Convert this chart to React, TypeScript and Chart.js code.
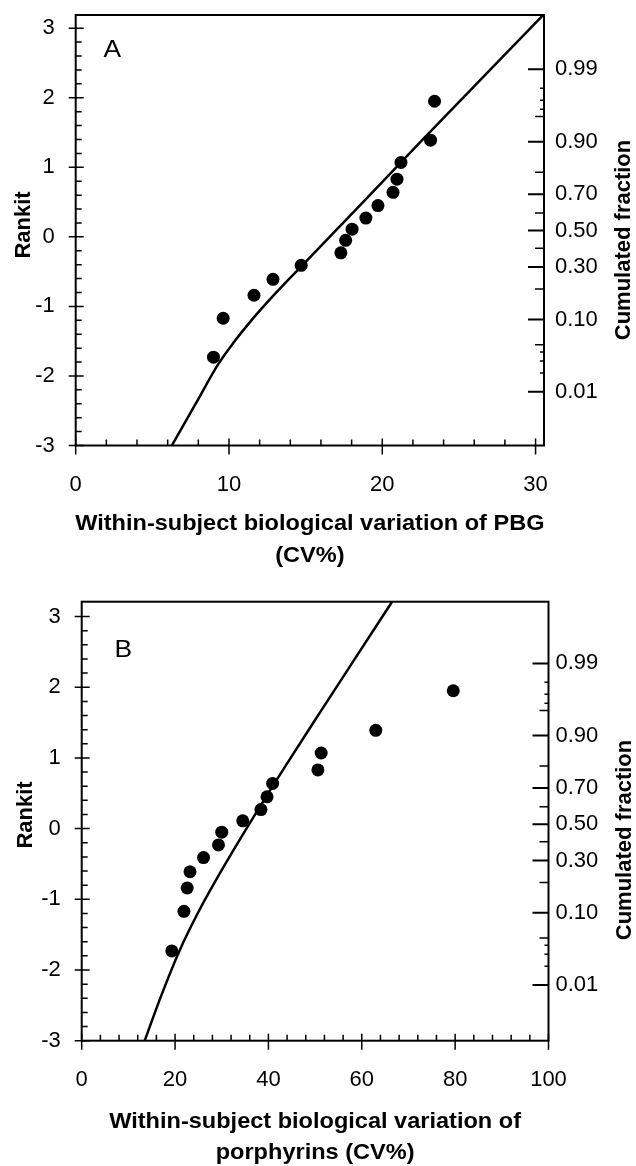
import React, { useEffect, useRef } from "react";
import { Chart, registerables } from "chart.js";

Chart.register(...registerables);

// ---------- data ----------
// expected normal order statistics (rankits) shared by both panels
const RANKITS = [-1.73, -1.17, -0.84, -0.61, -0.41, -0.23, -0.05, 0.11, 0.27, 0.45, 0.64, 0.83, 1.07, 1.39, 1.95];

// Panel A: PBG within-subject CV%
const PBG_CV = [8.99, 9.62, 11.63, 12.87, 14.71, 17.3, 17.61, 18.03, 18.93, 19.72, 20.7, 20.96, 21.22, 23.15, 23.41];
const PBG_FIT_CV = [6.27, 7.8, 9.3, 10.3, 11.5, 13.0, 14.8, 18.7, 22.6, 30.5];
const PBG_FIT_RANKIT = [-3.0, -2.41, -1.83, -1.52, -1.19, -0.82, -0.405, 0.49, 1.39, 3.19];

// Panel B: porphyrins within-subject CV%
const PORPH_CV = [19.3, 21.9, 22.6, 23.2, 26.1, 29.3, 30.0, 34.5, 38.4, 39.7, 40.9, 50.6, 51.3, 63.0, 79.6];
const PORPH_FIT_CV = [13.5, 17.0, 21.0, 25.0, 29.8, 36.5, 43.5, 51.3, 58.3, 66.5];
const PORPH_FIT_RANKIT = [-3.0, -2.37, -1.72, -1.18, -0.61, 0.13, 0.87, 1.67, 2.38, 3.21];

// tick labels
const X_TICKS_A = [0, 10, 20, 30];
const X_TICKS_B = [0, 20, 40, 60, 80, 100];
const RANKIT_TICKS = [-3, -2, -1, 0, 1, 2, 3];
const CUM_FRACTION_LABELS = ["0.01", "0.10", "0.30", "0.50", "0.70", "0.90", "0.99"];
const CUM_FRACTION_PROBITS = [-2.326, -1.282, -0.524, 0, 0.524, 1.282, 2.326];
// minor marks of the probability axis: 0.05, 0.20, 0.40, 0.60, 0.80, 0.95
const CUM_MINOR_PROBITS = [-1.645, -0.842, -0.253, 0.253, 0.842, 1.645];
// tiny marks: 0.02, 0.03, 0.04, 0.96, 0.97, 0.98
const CUM_TINY_PROBITS = [-2.054, -1.881, -1.751, 1.751, 1.881, 2.054];

const X_TITLE_A = ["Within-subject biological variation of PBG", "(CV%)"];
const X_TITLE_B = ["Within-subject biological variation of", "porphyrins (CV%)"];
const Y_TITLE = "Rankit";
const Y2_TITLE = "Cumulated fraction";

const W = 636;
const H = 583;
const FONT = '"Liberation Sans", Arial, sans-serif';

function range(from: number, to: number, step: number) {
  const out: number[] = [];
  for (let v = from; v <= to + 1e-9; v += step) out.push(Math.round(v * 1000) / 1000);
  return out;
}

type Spec = {
  letter: string;
  cv: number[];
  fitCv: number[];
  fitRankit: number[];
  xMax: number;
  yMax: number;
  y2Min: number;
  y2Max: number;
  xTicks: number[];
  xMinorStep: number;
  area: { left: number; right: number; top: number; bottom: number };
  xTitle: string[];
  xTitleDy: number[];
  rankitPos: [number, number];
  cumPos: [number, number];
  letterPos: [number, number];
  y2Pad: number;
};

function drawText(ctx: CanvasRenderingContext2D, text: string, x: number, y: number, font: string, rot = 0, sx = 1) {
  ctx.save();
  ctx.translate(x, y);
  if (rot) ctx.rotate(rot);
  ctx.scale(sx, 1);
  ctx.font = font;
  ctx.textAlign = "center";
  ctx.textBaseline = "middle";
  ctx.fillStyle = "#000";
  ctx.fillText(text, 0, 0);
  ctx.restore();
}

function makeDecor(spec: Spec) {
  return {
    id: "decor",
    afterDraw(chart: any) {
      const { ctx, chartArea: ca, scales } = chart;
      const xs = scales.x;
      const ys = scales.y;
      const y2s = scales.y2;
      ctx.save();
      ctx.strokeStyle = "#000";
      ctx.lineCap = "butt";
      // frame
      ctx.lineWidth = 2;
      ctx.strokeRect(ca.left, ca.top, ca.right - ca.left, ca.bottom - ca.top);
      ctx.lineWidth = 1.5;
      ctx.beginPath();
      // left axis
      for (const v of RANKIT_TICKS) {
        const p = ys.getPixelForValue(v);
        ctx.moveTo(ca.left - 7, p);
        ctx.lineTo(ca.left + 8, p);
      }
      for (const v of range(-3, 3, 0.2)) {
        if (RANKIT_TICKS.some((t) => Math.abs(t - v) < 1e-6)) continue;
        const p = ys.getPixelForValue(v);
        ctx.moveTo(ca.left, p);
        ctx.lineTo(ca.left + 6, p);
      }
      // bottom axis
      for (const v of spec.xTicks) {
        const p = xs.getPixelForValue(v);
        ctx.moveTo(p, ca.bottom - 7);
        ctx.lineTo(p, ca.bottom + 9);
      }
      for (const v of range(0, spec.xMax, spec.xMinorStep)) {
        if (spec.xTicks.some((t) => Math.abs(t - v) < 1e-6)) continue;
        const p = xs.getPixelForValue(v);
        ctx.moveTo(p, ca.bottom);
        ctx.lineTo(p, ca.bottom - 6);
      }
      ctx.stroke();
      // right probability axis
      ctx.lineWidth = 2;
      ctx.beginPath();
      for (const v of CUM_FRACTION_PROBITS) {
        const p = y2s.getPixelForValue(v);
        ctx.moveTo(ca.right, p);
        ctx.lineTo(ca.right - 16, p);
      }
      ctx.stroke();
      ctx.lineWidth = 1.5;
      ctx.beginPath();
      for (const v of CUM_MINOR_PROBITS) {
        const p = y2s.getPixelForValue(v);
        ctx.moveTo(ca.right, p);
        ctx.lineTo(ca.right - 9, p);
      }
      for (const v of CUM_TINY_PROBITS) {
        const p = y2s.getPixelForValue(v);
        ctx.moveTo(ca.right, p);
        ctx.lineTo(ca.right - 4, p);
      }
      ctx.stroke();
      ctx.restore();

      // titles
      const cx = (ca.left + ca.right) / 2;
      const bold = `bold 22px ${FONT}`;
      drawText(ctx, spec.xTitle[0], cx, ca.bottom + spec.xTitleDy[0], bold, 0, 1.07);
      drawText(ctx, spec.xTitle[1], cx, ca.bottom + spec.xTitleDy[1], bold, 0, 1.07);
      drawText(ctx, Y_TITLE, spec.rankitPos[0], spec.rankitPos[1], bold, -Math.PI / 2);
      drawText(ctx, Y2_TITLE, spec.cumPos[0], spec.cumPos[1], bold, -Math.PI / 2);
      drawText(ctx, spec.letter, spec.letterPos[0], spec.letterPos[1], `24px ${FONT}`, 0, 1.1);
    },
  };
}

function zeroPad(s: any) {
  s.paddingTop = 0;
  s.paddingBottom = 0;
  s.paddingLeft = 0;
  s.paddingRight = 0;
}

function buildConfig(spec: Spec): any {
  const tickFont = { family: FONT, size: 22 };
  return {
    type: "scatter",
    data: {
      datasets: [
        {
          type: "scatter",
          data: spec.cv.map((v, i) => ({ x: v, y: RANKITS[i] })),
          pointRadius: 6.5,
          pointBackgroundColor: "#000",
          pointBorderWidth: 0,
          pointHoverRadius: 6.5,
          yAxisID: "y",
        },
        {
          type: "line",
          data: spec.fitCv.map((v, i) => ({ x: v, y: spec.fitRankit[i] })),
          borderColor: "#000",
          borderWidth: 2.5,
          pointRadius: 0,
          fill: false,
          cubicInterpolationMode: "monotone",
          yAxisID: "y",
        },
      ],
    },
    options: {
      responsive: false,
      animation: false,
      events: [],
      layout: { padding: { top: spec.area.top, left: 0, right: 0, bottom: 0 } },
      plugins: { legend: { display: false }, tooltip: { enabled: false } },
      scales: {
        x: {
          type: "linear",
          position: "bottom",
          min: 0,
          max: spec.xMax,
          grid: { display: false, drawTicks: false },
          border: { display: false },
          afterBuildTicks: (s: any) => {
            s.ticks = spec.xTicks.map((v) => ({ value: v }));
          },
          afterFit: (s: any) => {
            s.height = H - spec.area.bottom;
            zeroPad(s);
          },
          ticks: { font: tickFont, color: "#000", padding: 26, autoSkip: false, maxRotation: 0, callback: (v: number) => String(v) },
        },
        y: {
          type: "linear",
          position: "left",
          min: -3,
          max: spec.yMax,
          grid: { display: false, drawTicks: false },
          border: { display: false },
          afterBuildTicks: (s: any) => {
            s.ticks = RANKIT_TICKS.map((v) => ({ value: v }));
          },
          afterFit: (s: any) => {
            s.width = spec.area.left;
            zeroPad(s);
          },
          ticks: { font: tickFont, color: "#000", padding: 21, autoSkip: false, callback: (v: number) => String(v) },
        },
        y2: {
          type: "linear",
          position: "right",
          min: spec.y2Min,
          max: spec.y2Max,
          grid: { display: false, drawTicks: false },
          border: { display: false },
          afterBuildTicks: (s: any) => {
            s.ticks = CUM_FRACTION_PROBITS.map((v) => ({ value: v }));
          },
          afterFit: (s: any) => {
            s.width = W - spec.area.right;
            zeroPad(s);
          },
          ticks: {
            font: tickFont,
            color: "#000",
            padding: spec.y2Pad,
            autoSkip: false,
            callback: (_v: number, i: number) => CUM_FRACTION_LABELS[i],
          },
        },
      },
    },
    plugins: [makeDecor(spec)],
  };
}

const SPEC_A: Spec = {
  letter: "A",
  cv: PBG_CV,
  fitCv: PBG_FIT_CV,
  fitRankit: PBG_FIT_RANKIT,
  xMax: 30.55,
  yMax: 3.19,
  y2Min: -3.1,
  y2Max: 3.11,
  xTicks: X_TICKS_A,
  xMinorStep: 2,
  area: { left: 75.7, right: 544, top: 15, bottom: 445.5 },
  xTitle: X_TITLE_A,
  xTitleDy: [78, 110],
  rankitPos: [24, 225],
  cumPos: [623.5, 240],
  letterPos: [112.3, 50],
  y2Pad: 11,
};

const SPEC_B: Spec = {
  letter: "B",
  cv: PORPH_CV,
  fitCv: PORPH_FIT_CV,
  fitRankit: PORPH_FIT_RANKIT,
  xMax: 100,
  yMax: 3.21,
  y2Min: -3.131,
  y2Max: 3.218,
  xTicks: X_TICKS_B,
  xMinorStep: 4,
  area: { left: 81.7, right: 548.5, top: 18.7, bottom: 457.7 },
  xTitle: X_TITLE_B,
  xTitleDy: [81, 112],
  rankitPos: [26, 232],
  cumPos: [625, 257],
  letterPos: [123.3, 67],
  y2Pad: 7,
};

function Panel({ spec, top }: { spec: Spec; top: number }) {
  const ref = useRef<HTMLCanvasElement | null>(null);
  useEffect(() => {
    if (!ref.current) return;
    const chart = new Chart(ref.current, buildConfig(spec));
    return () => chart.destroy();
  }, [spec]);
  return (
    <canvas
      ref={ref}
      width={W}
      height={H}
      style={{ position: "absolute", left: 0, top, width: W, height: H, display: "block" }}
    />
  );
}

export default function App() {
  return (
    <div style={{ position: "absolute", left: 0, top: 0, width: W, height: 1166, background: "#fff", overflow: "hidden" }}>
      <Panel spec={SPEC_A} top={0} />
      <Panel spec={SPEC_B} top={583} />
    </div>
  );
}
